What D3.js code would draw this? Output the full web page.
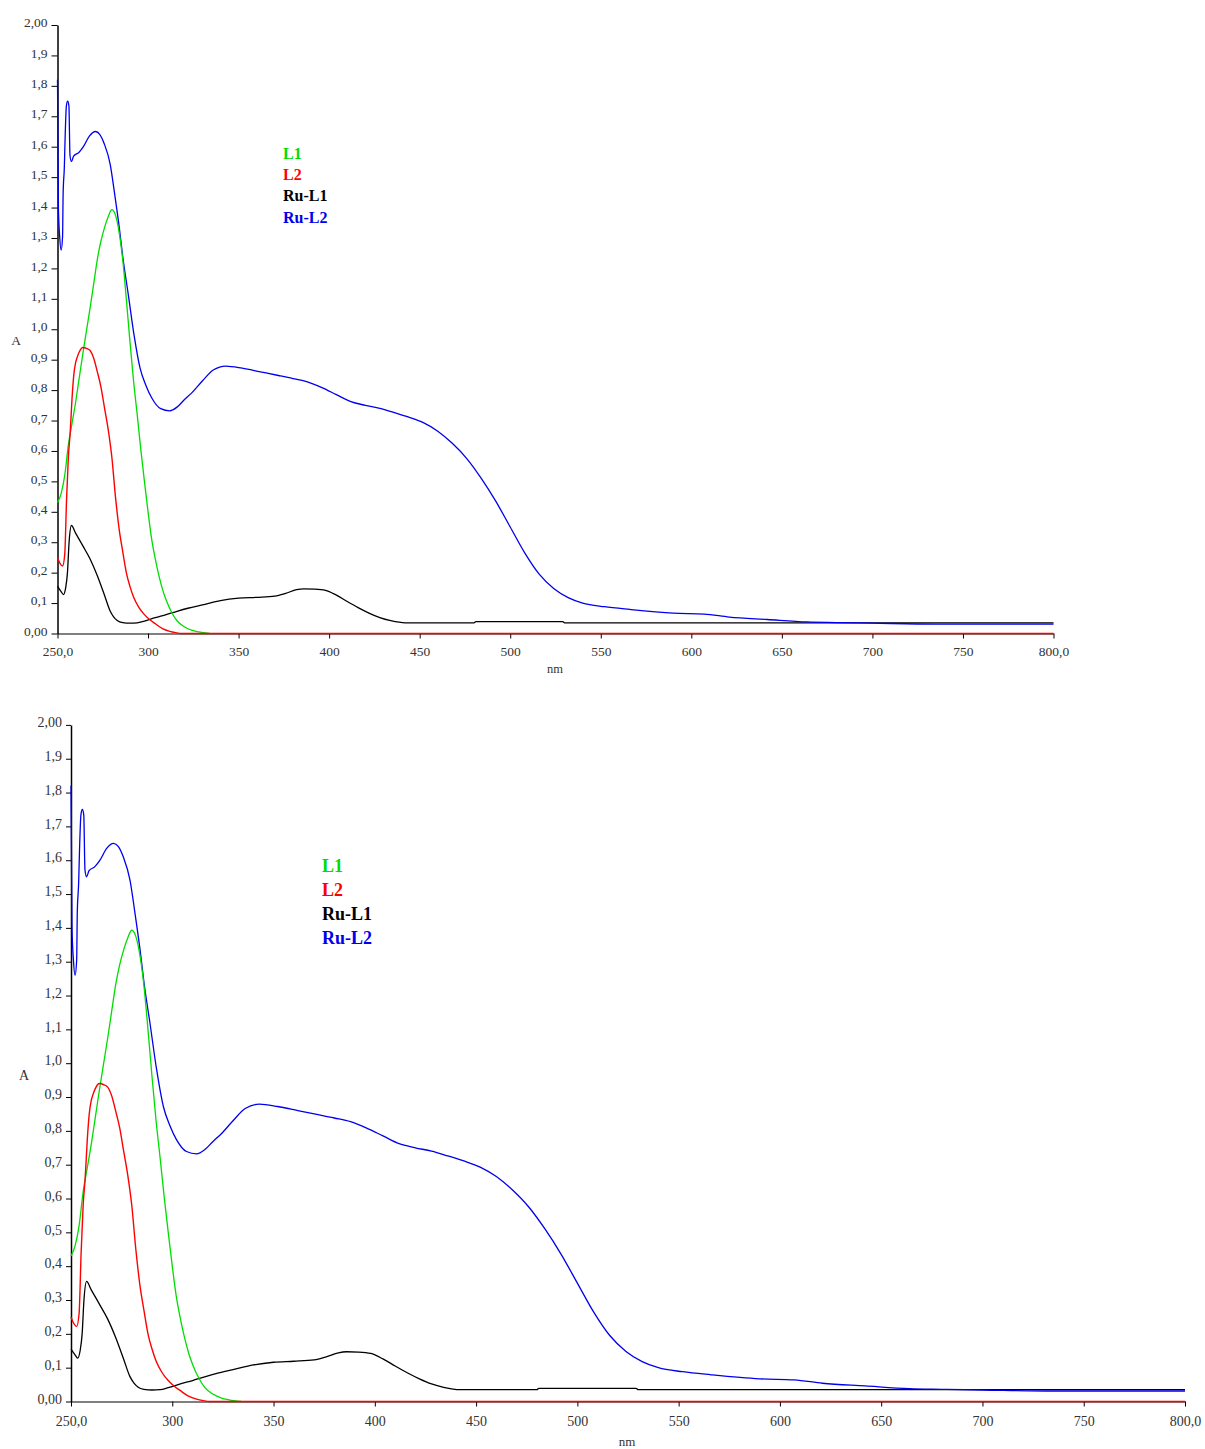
<!DOCTYPE html>
<html>
<head>
<meta charset="utf-8">
<script src="https://cdn.jsdelivr.net/npm/d3@7"></script>
<style>
  body { margin: 0; background: #fff; }
  svg { display: block; }
  .axis text { font-family: "Liberation Serif", serif; fill: #333; }
  .axis path, .axis line { stroke: #000; }
</style>
</head>
<body>
<svg width="1205" height="1449"></svg>
<script>
// L1
const l1Nm = [250, 252, 254, 256, 258, 260, 262, 264, 266, 268, 270, 272, 274, 276, 278, 280, 282, 284, 286, 288, 290, 292, 294, 296, 298, 300, 302, 304, 306, 308, 310, 313, 316, 320, 324, 328, 334];
const l1A = [0.43, 0.46, 0.52, 0.62, 0.69, 0.76, 0.84, 0.92, 0.995, 1.07, 1.15, 1.23, 1.29, 1.335, 1.37, 1.393, 1.375, 1.32, 1.23, 1.1, 0.96, 0.83, 0.72, 0.605, 0.5, 0.4, 0.31, 0.245, 0.19, 0.145, 0.11, 0.07, 0.042, 0.022, 0.011, 0.005, 0];

// L2
const l2Nm = [250, 251, 252.8, 254, 255, 256, 257, 258, 259, 260, 261, 262, 264, 266, 268, 270, 272, 274, 276, 278, 280, 282, 284, 286, 288, 290, 292, 295, 298, 301, 304, 308, 312, 316, 318, 800];
const l2A = [0.25, 0.235, 0.222, 0.26, 0.44, 0.58, 0.66, 0.77, 0.85, 0.89, 0.91, 0.925, 0.94, 0.937, 0.93, 0.905, 0.86, 0.81, 0.74, 0.67, 0.58, 0.45, 0.345, 0.27, 0.2, 0.155, 0.12, 0.085, 0.062, 0.045, 0.032, 0.016, 0.007, 0.002, 0, 0];

// Ru-L1
const ruL1Nm = [250, 252, 253.3, 254.5, 255.5, 256.4, 257.7, 260, 264, 268, 272, 276, 279, 281, 283, 286, 290, 294, 298, 304, 310, 316, 322, 330, 340, 350, 360, 370, 376, 382, 386, 392, 398, 404, 410, 416, 422, 428, 434, 442, 480, 481, 529, 530, 800];
const ruL1A = [0.155, 0.138, 0.128, 0.15, 0.2, 0.3, 0.355, 0.33, 0.288, 0.245, 0.19, 0.125, 0.075, 0.055, 0.043, 0.036, 0.034, 0.035, 0.041, 0.052, 0.062, 0.073, 0.083, 0.094, 0.108, 0.116, 0.119, 0.123, 0.132, 0.144, 0.147, 0.146, 0.142, 0.126, 0.105, 0.085, 0.067, 0.052, 0.042, 0.035, 0.035, 0.039, 0.039, 0.035, 0.035];

// Ru-L2
const ruL2Nm = [250, 250.5, 251.2, 252, 252.8, 253.1, 253.8, 254.1, 254.9, 255.6, 256.3, 256.9, 257.7, 258.9, 261.8, 264.3, 267.6, 271, 273.4, 275.8, 279.1, 281.6, 284.1, 286, 289, 292.3, 295.6, 299, 302, 307, 312, 316, 320, 324, 330, 336, 343, 352, 362, 372, 380, 388, 396, 404, 412, 420, 428, 436, 444, 452, 460, 468, 476, 484, 492, 500, 508, 516, 524, 532, 540, 552, 566, 590, 607, 621, 642, 664, 680, 700, 735, 800];
const ruL2A = [1.82, 1.4, 1.305, 1.26, 1.305, 1.443, 1.537, 1.606, 1.734, 1.75, 1.734, 1.571, 1.551, 1.569, 1.581, 1.6, 1.635, 1.65, 1.64, 1.61, 1.542, 1.443, 1.335, 1.24, 1.118, 0.98, 0.872, 0.813, 0.775, 0.739, 0.732, 0.744, 0.768, 0.79, 0.83, 0.866, 0.879, 0.872, 0.86, 0.848, 0.838, 0.827, 0.808, 0.785, 0.762, 0.75, 0.74, 0.726, 0.711, 0.693, 0.665, 0.625, 0.575, 0.51, 0.435, 0.35, 0.265, 0.195, 0.148, 0.118, 0.1, 0.088, 0.079, 0.067, 0.064, 0.054, 0.046, 0.038, 0.036, 0.034, 0.031, 0.031];

const seriesNames = ["L1", "L2", "Ru-L1", "Ru-L2"];
const seriesColors = ["#00dd00", "#ff0000", "#000000", "#0000ee"];

const xTickValues = [250, 300, 350, 400, 450, 500, 550, 600, 650, 700, 750, 800];
const xTickLabels = ["250,0", "300", "350", "400", "450", "500", "550", "600", "650", "700", "750", "800,0"];
const yTickValues = [0, 0.1, 0.2, 0.3, 0.4, 0.5, 0.6, 0.7, 0.8, 0.9, 1.0, 1.1, 1.2, 1.3, 1.4, 1.5, 1.6, 1.7, 1.8, 1.9, 2.0];
const yTickLabels = ["0,00", "0,1", "0,2", "0,3", "0,4", "0,5", "0,6", "0,7", "0,8", "0,9", "1,0", "1,1", "1,2", "1,3", "1,4", "1,5", "1,6", "1,7", "1,8", "1,9", "2,00"];

// same spectra, drawn twice at two sizes
const panels = [
  { left: 57.5, right: 1053.5, bottom: 633.5, top: 25, font: 13.5, legX: 283, legY: 153, legStep: 21.3, legFont: 16, aX: 16, aY: 340, nmX: 555, nmY: 673, xPad: 8, ySize: 6 },
  { left: 71, right: 1185, bottom: 1401.5, top: 724.9, font: 14, legX: 322, legY: 866, legStep: 24, legFont: 18, aX: 24, aY: 1075, nmX: 627, nmY: 1446, xPad: 10, ySize: 5 }
];

const svg = d3.select("svg");

panels.forEach(function (p) {
  const x = d3.scaleLinear().domain([250, 800]).range([p.left, p.right]);
  const y = d3.scaleLinear().domain([0, 2]).range([p.bottom, p.top]);
  const g = svg.append("g");

  // Y axis
  const yAxis = g.append("g")
    .attr("class", "axis")
    .attr("transform", "translate(" + p.left + ",0)")
    .call(d3.axisLeft(y).tickValues(yTickValues)
      .tickFormat(function (d, i) { return yTickLabels[i]; })
      .tickSize(p.ySize).tickSizeOuter(0).tickPadding(4));
  yAxis.selectAll("text").style("font-size", p.font + "px").attr("dy", "0.12em");
  yAxis.select(".domain").attr("stroke-width", 1.5);

  // X axis
  const xAxis = g.append("g")
    .attr("class", "axis")
    .attr("transform", "translate(0," + p.bottom + ")")
    .call(d3.axisBottom(x).tickValues(xTickValues)
      .tickFormat(function (d, i) { return xTickLabels[i]; })
      .tickSize(5).tickSizeOuter(0).tickPadding(p.xPad));
  xAxis.selectAll("text").style("font-size", p.font + "px");
  xAxis.select(".domain").attr("stroke-width", 1);

  // axis titles
  g.append("text")
    .attr("x", p.aX).attr("y", p.aY)
    .attr("text-anchor", "middle").attr("dy", "0.35em")
    .style("font-family", "Liberation Serif").style("font-size", p.font + "px").style("fill", "#333")
    .text("A");
  g.append("text")
    .attr("x", p.nmX).attr("y", p.nmY)
    .attr("text-anchor", "middle")
    .style("font-family", "Liberation Serif").style("font-size", (p.font - 1) + "px").style("fill", "#333")
    .text("nm");

  // spectra
  const line = d3.line()
    .x(function (d) { return x(d[0]); })
    .y(function (d) { return y(d[1]); })
    .curve(d3.curveMonotoneX);
  const order = [
    [ruL1Nm, ruL1A, 2],
    [ruL2Nm, ruL2A, 3],
    [l1Nm, l1A, 0],
    [l2Nm, l2A, 1]
  ];
  order.forEach(function (s) {
    const pts = s[0].map(function (v, i) { return [v, s[1][i]]; });
    g.append("path")
      .datum(pts)
      .attr("fill", "none")
      .attr("stroke", seriesColors[s[2]])
      .attr("stroke-width", s[2] === 1 ? 1.4 : 1.3)
      .attr("stroke-linejoin", "round")
      .attr("d", line);
  });

  // legend
  g.append("g")
    .selectAll("text")
    .data(seriesNames)
    .enter()
    .append("text")
    .attr("x", p.legX)
    .attr("y", function (d, i) { return p.legY + i * p.legStep; })
    .attr("dy", "0.35em")
    .style("font-family", "Liberation Serif")
    .style("font-weight", "bold")
    .style("font-size", p.legFont + "px")
    .style("fill", function (d, i) { return seriesColors[i]; })
    .text(function (d) { return d; });
});
</script>
</body>
</html>
